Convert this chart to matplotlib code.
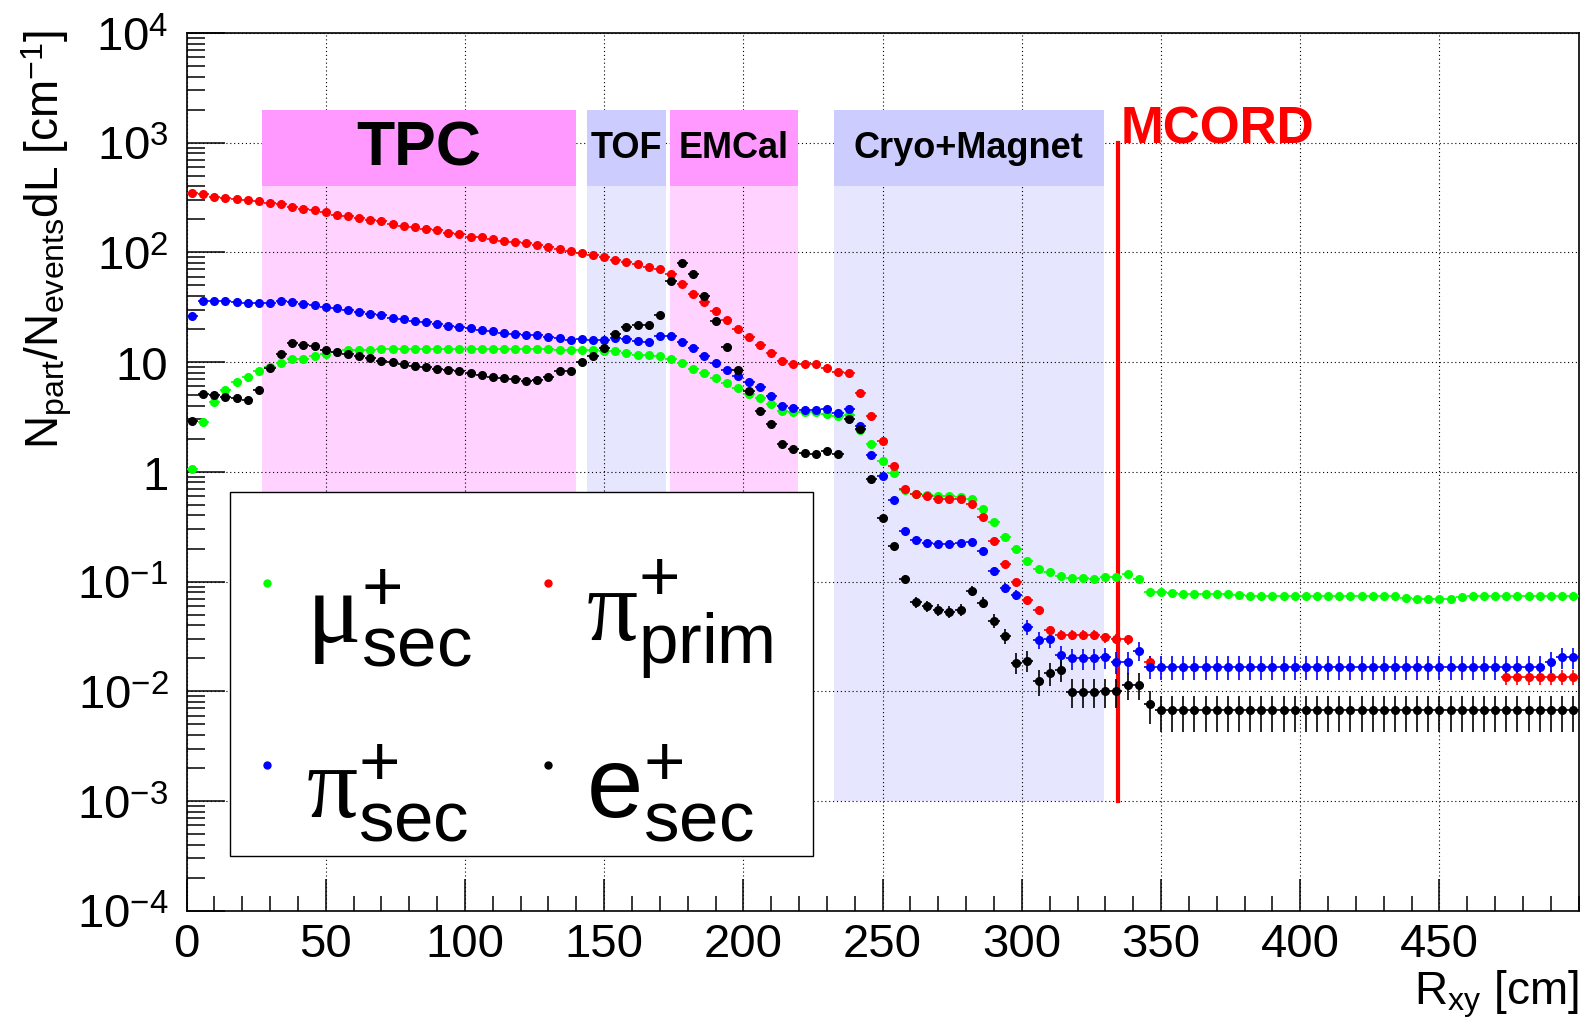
import numpy as np
import matplotlib
matplotlib.use('Agg')
import matplotlib.pyplot as plt
from matplotlib.patches import Rectangle
from matplotlib.ticker import LogLocator, NullFormatter

plt.rcParams['font.family'] = ['Liberation Sans', 'DejaVu Sans']
plt.rcParams['mathtext.fontset'] = 'custom'
plt.rcParams['mathtext.rm'] = 'Liberation Sans'
plt.rcParams['mathtext.it'] = 'Liberation Serif:italic'
plt.rcParams['mathtext.sf'] = 'Liberation Serif'
plt.rcParams['mathtext.bf'] = 'Liberation Sans:bold'

nan = np.nan

# 4 cm bins in R_xy, centres 2 .. 498 cm
r_bins = np.arange(2, 500, 4)

mu_sec = ([1.07, 2.82, 4.3, 5.6, 6.6, 7.3, 8.3, 9.0, 9.9, 10.6,
           10.7, 11.3, 11.8, 12.3, 12.8, 13.0, 13.0, 13.2, 13.2, 13.3,
           13.3, 13.3, 13.3, 13.3, 13.3, 13.3, 13.3, 13.3, 13.3, 13.3,
           13.3, 13.3, 13.3, 13.0, 12.8, 12.8, 12.9, 12.7, 12.5, 12.1,
           11.7, 11.7, 11.3, 10.6, 9.8, 8.7, 7.9, 7.2, 6.4, 5.8,
           5.1, 4.7, 4.15, 3.6, 3.5, 3.5, 3.5, 3.4, 3.2, 3.3,
           2.41, 1.8, 1.25, 0.97, 0.68, 0.63, 0.61, 0.60, 0.60, 0.594,
           0.567, 0.456, 0.349, 0.252, 0.198, 0.155, 0.131, 0.122, 0.1135, 0.108,
           0.108, 0.106, 0.110, 0.110, 0.116, 0.105, 0.081, 0.0798, 0.0787, 0.077,
           0.077, 0.077, 0.077, 0.077, 0.0759, 0.0743]
          + 13 * [0.0733]
          + [0.0708, 0.0692, 0.0692, 0.0692, 0.070, 0.0728]
          + 10 * [0.0743])

pi_prim = ([350, 340, 322, 315, 308, 302, 294, 282, 274, 259,
            248, 243, 233, 220, 214, 205, 197, 192, 183, 173,
            170, 162, 159, 150, 146, 139, 137, 133, 128, 124,
            121, 116, 113, 108, 102, 98, 95, 91, 86, 82,
            78, 73, 70, 63, 52, 42, 35, 29, 24, 20,
            17, 14.4, 12.2, 10.3, 9.7, 9.6, 9.6, 8.9, 8.2, 7.9,
            5.2, 3.2, 1.9, 1.12, 0.70, 0.63, 0.60, 0.57, 0.57, 0.57,
            0.51, 0.385, 0.234, 0.145, 0.099, 0.068, 0.055, 0.036, 0.0327, 0.0327,
            0.0327, 0.0327, 0.031, 0.030, 0.0297, nan, 0.0186]
           + 31 * [nan]
           + 7 * [0.0134])

pi_sec = ([26.4, 35.7, 35.7, 35.7, 35.2, 34.8, 34.8, 34.8, 35.7, 35.5,
           34.0, 33.3, 31.7, 30.9, 29.6, 28.8, 27.6, 26.8, 25.3, 24.6,
           23.6, 23.1, 22.2, 21.5, 20.9, 20.5, 19.7, 19.1, 18.6, 18.2,
           17.7, 17.5, 17.0, 16.6, 15.9, 16.2, 15.9, 16.0, 16.6, 16.4,
           15.7, 15.1, 17.2, 17.2, 15.1, 13.4, 11.3, 9.9, 8.5, 7.4,
           6.6, 5.9, 4.9, 4.0, 3.8, 3.65, 3.65, 3.7, 3.45, 3.7,
           2.6, 1.43, 0.92, 0.55, 0.29, 0.239, 0.226, 0.218, 0.218, 0.223,
           0.227, 0.188, 0.124, 0.0875, 0.076, 0.0385, 0.0295, 0.030, 0.0212, 0.0199,
           0.0199, 0.0199, 0.0204, 0.0184, 0.0184, 0.0235, 0.0168]
          + 35 * [0.01675]
          + [0.0186, 0.0204, 0.0204])

e_sec = ([2.92, 5.1, 5.0, 4.8, 4.7, 4.5, 5.6, 8.9, 11.9, 14.8,
          14.4, 13.9, 12.8, 12.3, 11.8, 11.3, 10.8, 10.3, 10.0, 9.6,
          9.3, 9.1, 8.7, 8.5, 8.3, 8.0, 7.7, 7.3, 7.1, 7.0,
          6.7, 6.9, 7.3, 8.3, 8.3, 10.0, 11.3, 13.4, 18.2, 21.0,
          21.7, 22.0, 27.0, 55, 80, 64, 40, 23.9, 13.7, 8.5,
          5.4, 3.6, 2.7, 1.80, 1.63, 1.49, 1.44, 1.55, 1.45, 3.0,
          2.47, 0.86, 0.377, 0.212, 0.106, 0.0647, 0.0599, 0.0555, 0.0528, 0.0555,
          0.0827, 0.0643, 0.044, 0.032, 0.0182, 0.019, 0.0123, 0.0147, 0.0157, 0.0099,
          0.0099, 0.0099, 0.0100, 0.0100, 0.0114, 0.0115, 0.0076]
         + 38 * [0.00668])

# per-series scale of the statistical errors (sigma^2 = scale * value)
err_scale = {'mu': 3.6e-4, 'piprim': 3.3e-4, 'pisec': 9.5e-4, 'e': 8.6e-4}

# detector regions [cm]
det_names = ['TPC', 'TOF', 'EMCal', 'Cryo+Magnet']
det_lo = [27, 144, 173.5, 232.5]
det_hi = [140, 172.2, 219.5, 329.5]
mcord_r = 334.5

fig = plt.figure(figsize=(15.82, 10.20), dpi=100)
ax = fig.add_axes([0.1179, 0.1062, 0.8800, 0.8605])
ax.set_yscale('log')
ax.set_xlim(0, 500)
ax.set_ylim(1e-4, 1e4)

# detector bands: pale body + solid header box
head_col = ['#ff99ff', '#ccccff', '#ff99ff', '#ccccff']
body_col = ['#ffd2ff', '#e6e6ff', '#ffd2ff', '#e6e6ff']
fsize = [45, 26, 26, 26]
for name, lo, hi, hc, bc, fs in zip(det_names, det_lo, det_hi, head_col, body_col, fsize):
    ax.add_patch(Rectangle((lo, 1e-3), hi - lo, 400 - 1e-3, facecolor=bc,
                           edgecolor='none', zorder=0.2))
    ax.add_patch(Rectangle((lo, 400), hi - lo, 1600, facecolor=hc,
                           edgecolor='none', zorder=1))
    ax.text((lo + hi) / 2, np.sqrt(400 * 2000), name, ha='center', va='center',
            fontsize=fs, fontweight='bold', zorder=1.5)

ax.plot([mcord_r, mcord_r], [1e-3, 1e3], color='red', lw=3, zorder=2)
ax.text(mcord_r + 1, 1e3, 'MCORD', color='red', fontsize=37, fontweight='bold',
        ha='left', va='baseline', zorder=2)

series = [(mu_sec, '#00ff00', 'mu'), (pi_prim, '#ff0000', 'piprim'),
          (pi_sec, '#0000ff', 'pisec'), (e_sec, '#000000', 'e')]
for vals, col, key in series:
    y = np.array(vals, dtype=float)
    yerr = np.sqrt(err_scale[key] * y)
    ax.errorbar(r_bins, y, xerr=2, yerr=yerr, fmt='o', ms=5.5, color=col,
                ecolor=col, elinewidth=1.2, capsize=0, zorder=3)

# axes styling (ROOT look)
ax.set_axisbelow(True)
ax.grid(True, which='major', linestyle=(0, (1, 2.5)), color='black', lw=0.8)
ax.set_xticks(np.arange(0, 500, 50))
ax.set_xticks(np.arange(0, 501, 10), minor=True)
ydec = list(range(-4, 5))
ax.set_yticks([10.0 ** k for k in ydec])
ylabs = []
for k in ydec:
    if k == 0:
        ylabs.append('1')
    elif k == 1:
        ylabs.append('10')
    else:
        ylabs.append(r'$10^{%d}$' % k)
ax.set_yticklabels(ylabs)
ax.yaxis.set_minor_locator(LogLocator(base=10, subs=np.arange(2, 10), numticks=100))
ax.yaxis.set_minor_formatter(NullFormatter())
ax.tick_params(which='both', direction='in', top=False, right=False, width=1.1)
ax.tick_params(axis='y', which='major', length=27, pad=13, labelsize=34)
ax.tick_params(axis='y', which='minor', length=13)
ax.tick_params(axis='x', which='major', length=23, pad=8, labelsize=34)
ax.tick_params(axis='x', which='minor', length=11)
for sp in ax.spines.values():
    sp.set_linewidth(1.2)

fig.text(46.5 / 1582, 1 - 30 / 1020,
         r'N$_{\mathrm{part}}$/N$_{\mathrm{events}}$dL [cm$^{\mathrm{-1}}$]',
         rotation=90, ha='center', va='top', fontsize=33)
fig.text(1579 / 1582, 1 - 994 / 1020, r'R$_{\mathrm{xy}}$ [cm]',
         ha='right', va='center', fontsize=33)

# legend, drawn by hand in axes coordinates
ax.add_patch(Rectangle((0.0315, 0.0627), 0.4185, 0.4147, transform=ax.transAxes,
                       facecolor='white', edgecolor='black', lw=1.0, zorder=4))
leg_items = [(0.0576, 0.373, 0.0858, 0.333, '#00ff00', r'$\mathsf{\mu}^{+}_{\mathrm{sec}}$'),
             (0.2594, 0.373, 0.2870, 0.333, '#ff0000', r'$\mathsf{\pi}^{+}_{\mathrm{prim}}$'),
             (0.0576, 0.1663, 0.0858, 0.134, '#0000ff', r'$\mathsf{\pi}^{+}_{\mathrm{sec}}$'),
             (0.2594, 0.1663, 0.2870, 0.134, '#000000', r'$\mathrm{e}^{+}_{\mathrm{sec}}$')]
for mx, my, tx, ty, col, lab in leg_items:
    ax.plot([mx], [my], 'o', ms=5, color=col, transform=ax.transAxes, zorder=5,
            clip_on=False)
    ax.text(tx, ty, lab, transform=ax.transAxes, fontsize=73, ha='left',
            va='center', zorder=5)

fig.savefig('out.png', dpi=100)
